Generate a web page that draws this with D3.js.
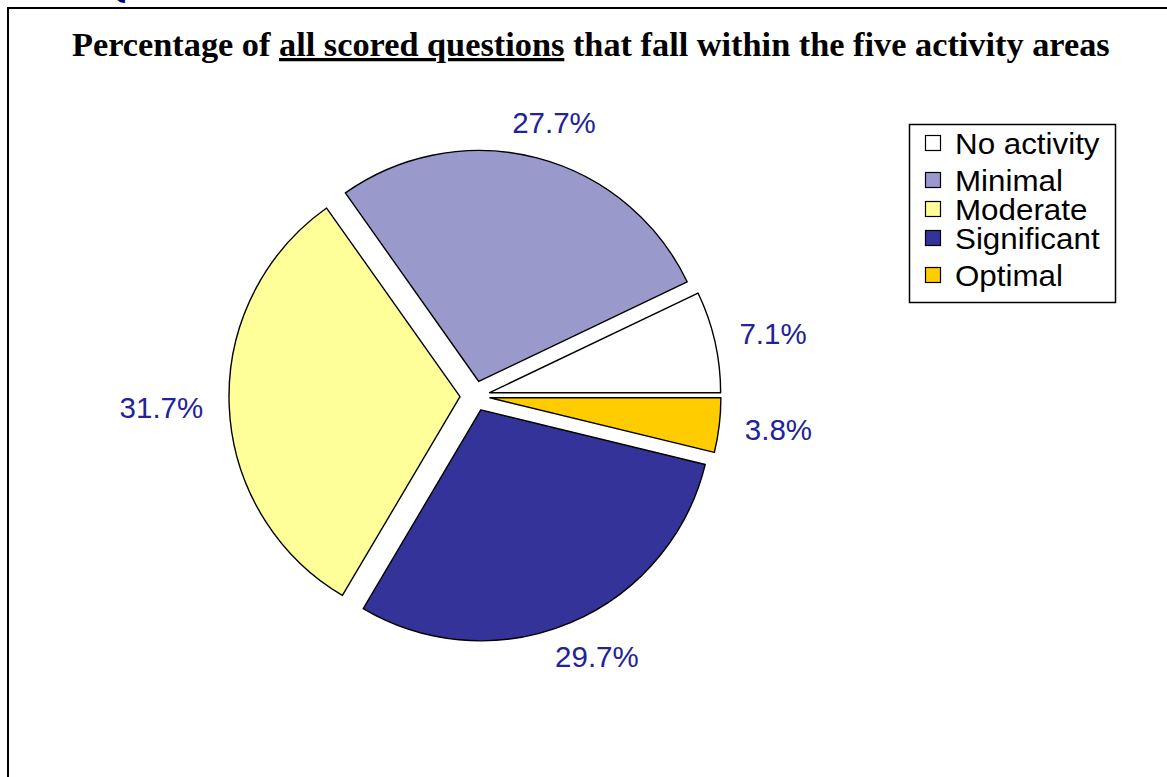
<!DOCTYPE html>
<html>
<head>
<meta charset="utf-8">
<script src="https://cdn.jsdelivr.net/npm/d3@7/dist/d3.min.js"></script>
<style>
  html, body { margin: 0; padding: 0; background: #fff; }
  svg { display: block; }
</style>
</head>
<body>
<svg id="chart" width="1167" height="777"></svg>
<script>
// Activity areas, in drawing order (counter-clockwise from 3 o'clock)
const categories = ["No activity", "Minimal", "Moderate", "Significant", "Optimal"];
const shares = [7.1, 27.7, 31.7, 29.7, 3.8];
const colors = ["#ffffff", "#9999cc", "#ffff99", "#333399", "#ffcc00"];

const titleBefore = "Percentage of ";
const titleUnderlined = "all scored questions";
const titleAfter = " that fall within the five activity areas";

const svg = d3.select("#chart");
const W = 1167, H = 777;

// page fragment above the frame
svg.append("text")
  .attr("x", 101).attr("y", -3)
  .attr("font-family", "DejaVu Serif, serif")
  .attr("font-weight", "bold")
  .attr("font-size", 34)
  .attr("fill", "#00007f")
  .text("Q");

// outer frame (runs off the right and bottom edges)
svg.append("path")
  .attr("d", `M8,${H + 5} L8,8 L${W + 5},8`)
  .attr("fill", "none")
  .attr("stroke", "#000")
  .attr("stroke-width", 2);

// title, squeezed horizontally to span the frame
const titleX = 72, titleW = 1038;
const title = svg.append("text")
  .attr("x", titleX).attr("y", 56)
  .attr("font-family", "Liberation Serif, serif")
  .attr("font-weight", "bold")
  .attr("font-size", 33)
  .attr("fill", "#000");
title.append("tspan").text(titleBefore);
title.append("tspan").attr("text-decoration", "underline").text(titleUnderlined);
title.append("tspan").text(titleAfter);
{
  const w = title.node().getComputedTextLength();
  const k = titleW / w;
  title.attr("transform", `translate(${titleX},0) scale(${k},1) translate(${-titleX},0)`);
}

// pie
const cx = 475, cy = 396, radius = 231, explode = 15;
const pie = d3.pie()
  .sort(null)
  .value(d => d.value)
  .startAngle(Math.PI / 2)
  .endAngle(Math.PI / 2 - 2 * Math.PI);

const data = categories.map((c, i) => ({ name: c, value: shares[i], color: colors[i] }));
const arcs = pie(data);
const arc = d3.arc().innerRadius(0).outerRadius(radius);

const g = svg.append("g").attr("transform", `translate(${cx},${cy})`);

function midDir(a) {
  const m = (a.startAngle + a.endAngle) / 2;
  return [Math.sin(m), -Math.cos(m)];
}

g.selectAll("path.slice")
  .data(arcs)
  .join("path")
  .attr("class", "slice")
  .attr("transform", d => {
    const [dx, dy] = midDir(d);
    return `translate(${dx * explode},${dy * explode})`;
  })
  .attr("d", arc)
  .attr("fill", d => d.data.color)
  .attr("stroke", "#000")
  .attr("stroke-width", 1.4)
  .attr("stroke-linejoin", "round");

// value labels, set outside each slice
const labelDist = 272;
const labels = g.selectAll("text.val")
  .data(arcs)
  .join("text")
  .attr("class", "val")
  .attr("font-family", "Liberation Sans, Arial, sans-serif")
  .attr("font-size", 29.5)
  .attr("fill", "#22229a")
  .attr("text-anchor", "middle")
  .text(d => d.data.value.toFixed(1) + "%");

labels.each(function (d) {
  const t = d3.select(this);
  const w = this.getComputedTextLength();
  const h = 21;
  const [dx, dy] = midDir(d);
  const x = dx * labelDist + dx * w / 2;
  const y = dy * labelDist + dy * h / 2;
  t.attr("x", x).attr("y", y + h / 2);
});

// legend
const lg = svg.append("g");
lg.append("rect")
  .attr("x", 909.5).attr("y", 124.5)
  .attr("width", 206).attr("height", 178)
  .attr("fill", "#fff")
  .attr("stroke", "#000")
  .attr("stroke-width", 1.5);

const rowY = [143, 180, 209, 238, 275];
const rows = lg.selectAll("g.row")
  .data(data)
  .join("g")
  .attr("class", "row")
  .attr("transform", (d, i) => `translate(0,${rowY[i]})`);

rows.append("rect")
  .attr("x", 925.5).attr("y", -7.5)
  .attr("width", 15).attr("height", 15)
  .attr("fill", d => d.color)
  .attr("stroke", "#000")
  .attr("stroke-width", 1.2);

rows.append("text")
  .attr("x", 955).attr("y", 10.5)
  .attr("font-family", "Liberation Sans, Arial, sans-serif")
  .attr("font-size", 30)
  .attr("fill", "#000")
  .attr("transform", "translate(955,0) scale(1.045,1) translate(-955,0)")
  .text(d => d.name);
</script>
</body>
</html>
